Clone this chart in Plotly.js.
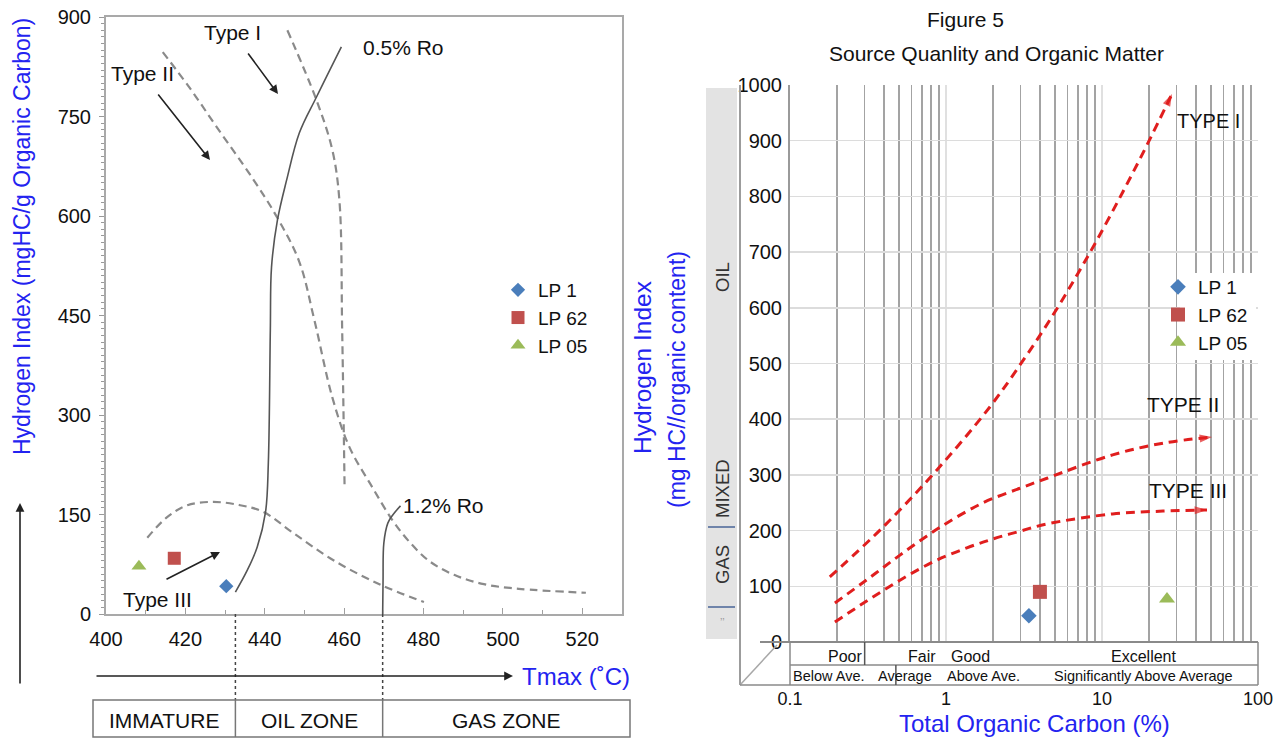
<!DOCTYPE html>
<html><head><meta charset="utf-8">
<script src="https://cdn.plot.ly/plotly-3.0.1.min.js"></script>
<style>html,body{margin:0;padding:0;background:#fff}#chart{width:1283px;height:740px}</style>
</head><body><div id="chart"></div>
<script>
// ---------- DATA ----------
const sampleNames = ['LP 1', 'LP 62', 'LP 05'];
// Left chart: Tmax vs HI
const sampleTmax = [430.3, 417.2, 408.3];
const sampleHiLeft = [42, 84, 72];
// Right chart: TOC vs HI
const sampleToc = [3.4, 4.0, 26.1];
const sampleHiRight = [47, 90, 77];

// Left chart kerogen type curves (Tmax, HI)
const leftType1X = [445.7, 453.0, 457.0, 458.8, 459.5, 460.1];
const leftType1Y = [880, 775, 700, 624, 428, 194];
const leftType2X = [414.3, 421.1, 427.9, 436.9, 443.2, 448.7, 452.5, 457.0, 461.3, 467.1, 472.1, 476.4, 481.4, 487.7, 495.2, 504.0, 520.9];
const leftType2Y = [847, 793, 734, 657, 597, 531, 443, 327, 252, 191, 142, 109, 80, 59, 45, 38, 32];
const leftType3X = [410.4, 415.4, 420.5, 427, 433.8, 439.6, 447.2, 457.3, 469.2, 480.1];
const leftType3Y = [115, 146, 164, 169, 164, 154, 122, 81, 44, 18];
// Vitrinite reflectance iso-lines
const ro05X = [432.6, 435.6, 438.1, 440.2, 440.9, 441.4, 441.7, 443.2, 445.5, 448.7, 453.0, 459.3];
const ro05Y = [33, 66, 101, 154, 228, 428, 523, 594, 654, 725, 779, 855];
const ro12X = [469.7, 469.8, 470, 471, 472.2, 474.2];
const ro12Y = [0, 51, 107, 137, 149, 163];
// Maturity zone boundaries (Tmax)
const zoneBounds = [432.6, 469.7];
const zoneNames = ['IMMATURE', 'OIL ZONE', 'GAS ZONE'];
const leftXTicks = [400, 420, 440, 460, 480, 500, 520];

// Right chart type trends (TOC %, HI)
const rightType1X = [0.18, 0.394, 0.875, 1.91, 3.2, 4.85, 6.92, 9.3, 13.6, 19.4, 28.1];
const rightType1Y = [117, 206, 309, 422, 510, 587, 659, 722, 808, 892, 984];
const rightType2X = [0.194, 0.312, 0.507, 0.916, 1.73, 2.98, 4.44, 11.7, 24.6, 50.7];
const rightType2Y = [70, 112, 156, 206, 250, 276, 294, 336, 357, 368];
const rightType3X = [0.194, 0.312, 0.507, 0.83, 1.36, 2.0, 2.98, 4.44, 11.7, 24.6, 47.1];
const rightType3Y = [36, 74, 111, 144, 169, 185, 199, 212, 230, 235, 237];
const rightXTicks = [0.1, 1, 10, 100];
const rightXTickText = ['0.1', '1', '10', '100'];
// TOC quality class boundaries
const qualityBounds = [1, 2];        // Poor/Fair | Good | Excellent
const averageBounds = [0.3, 1, 3];   // Below Ave. | Average | Above Ave. | Significantly Above Average

// ---------- HELPERS ----------
const W = 1283, H = 740;
const px = v => v / W;
const py = v => 1 - v / H;
const FONT = 'Liberation Sans, Arial, sans-serif';
const BLUE = '#2323f0';
const RED = '#e01e1e';
const sampleColors = ['#4a7ebb', '#c0504d', '#9bbb59'];
const sampleSymbols = ['diamond', 'square', 'triangle-up'];
const sampleSizes = [11, 13, 13];

const traces = [];
function leftCurve(x, y, solid) {
  traces.push({x, y, xaxis: 'x', yaxis: 'y', mode: 'lines', showlegend: false, hoverinfo: 'skip',
    line: solid ? {color: '#555', width: 1.6, shape: 'spline', smoothing: 1} : {color: '#8a8a8a', width: 2.2, dash: '8px,5px', shape: 'spline', smoothing: 1}});
}
leftCurve(leftType1X, leftType1Y, false);
leftCurve(leftType2X, leftType2Y, false);
leftCurve(leftType3X, leftType3Y, false);
leftCurve(ro05X, ro05Y, true);
leftCurve(ro12X, ro12Y, true);

function rightCurve(x, y) {
  const n = x.length;
  traces.push({x, y, xaxis: 'x2', yaxis: 'y2', mode: 'lines+markers', showlegend: false, hoverinfo: 'skip',
    line: {color: RED, width: 3, dash: '9px,6px', shape: 'spline', smoothing: 1},
    marker: {color: RED, symbol: x.map((_, i) => i === n - 1 ? 'arrow' : 'circle'),
      size: x.map((_, i) => i === n - 1 ? 13 : 0), angleref: 'previous', line: {width: 0}}});
}
rightCurve(rightType1X, rightType1Y);
rightCurve(rightType2X, rightType2Y);
rightCurve(rightType3X, rightType3Y);

sampleNames.forEach((nm, i) => {
  traces.push({x: [sampleTmax[i]], y: [sampleHiLeft[i]], xaxis: 'x', yaxis: 'y', mode: 'markers', name: nm,
    legend: 'legend', marker: {color: sampleColors[i], symbol: sampleSymbols[i], size: sampleSizes[i]}});
});
sampleNames.forEach((nm, i) => {
  traces.push({x: [sampleToc[i]], y: [sampleHiRight[i]], xaxis: 'x2', yaxis: 'y2', mode: 'markers', name: nm,
    legend: 'legend2', marker: {color: sampleColors[i], symbol: sampleSymbols[i], size: sampleSizes[i] + 1}});
});

// minor log grid values
const minorLog = [];
[0.1, 1, 10].forEach(d => { for (let k = 2; k <= 9; k++) minorLog.push(+(k * d).toPrecision(3)); });

// ---------- ANNOTATIONS ----------
const ann = [];
function txt(text, x, y, size, color, extra) {
  ann.push(Object.assign({text, x: px(x), y: py(y), xref: 'paper', yref: 'paper', showarrow: false,
    xanchor: 'center', yanchor: 'middle', font: {family: FONT, size, color: color || '#111'}}, extra || {}));
}
function arrow(hx, hy, tx, ty) {
  ann.push({text: '', x: px(hx), y: py(hy), xref: 'paper', yref: 'paper', showarrow: true,
    ax: tx - hx, ay: ty - hy, arrowhead: 2, arrowsize: 1.1, arrowwidth: 1.6, arrowcolor: '#222'});
}
// left chart
txt('Hydrogen Index (mgHC/g Organic Carbon)', 22, 237, 23, BLUE, {textangle: -90});
txt('Type I', 232, 32, 21);
txt('Type II', 142, 73, 21);
txt('0.5% Ro', 403, 47, 21);
txt('1.2% Ro', 443, 505, 21);
txt('Type III', 157, 599, 21);
arrow(278, 94, 247, 52);
arrow(210, 160, 157, 93);
arrow(220, 552, 165, 580);
arrow(20, 503, 20, 685);
arrow(513, 676, 95, 676);
txt('Tmax (˚C)', 576, 676, 24, BLUE);
// zone names placed between bounds in data coords
const zoneEdges = [400 - (106 - 93) / 3.98, ...zoneBounds, 530 + (630 - 622) / 3.98];
zoneNames.forEach((z, i) => {
  ann.push({text: z, x: (zoneEdges[i] + zoneEdges[i + 1]) / 2, y: py(720), xref: 'x', yref: 'paper', showarrow: false,
    xanchor: 'center', yanchor: 'middle', font: {family: FONT, size: 21, color: '#111'}});
});
// right chart
txt('Figure 5', 965, 20, 21);
txt('Source Quanlity and Organic Matter', 996, 53, 21);
txt('Hydrogen Index', 642, 368, 24.5, BLUE, {textangle: -90});
txt('(mg HC//organic content)', 677, 380, 23, BLUE, {textangle: -90});
txt('Total Organic Carbon (%)', 1034, 723, 24, BLUE);
txt('TYPE I', 1208, 121, 20);
txt('TYPE II', 1183, 404, 21);
txt('TYPE III', 1188, 490, 21);
txt('OIL', 722, 277, 18.5, '#333', {textangle: -90});
txt('MIXED', 722, 489, 18.5, '#333', {textangle: -90});
txt('GAS', 722, 565, 18.5, '#333', {textangle: -90});
txt('’’', 722, 622, 11, '#999');
// table texts
txt('Poor', 845, 656, 16);
txt('Fair', 922, 656, 16);
txt('Good', 970, 656, 16);
txt('Excellent', 1143, 656, 16);
txt('Below Ave.', 828, 676, 14.5);
txt('Average', 905, 676, 14.5);
txt('Above Ave.', 983, 676, 14.5);
txt('Significantly Above Average', 1143, 676, 14.5);

// ---------- SHAPES ----------
const shapes = [];
function pline(x0, y0, x1, y1, color, width, dash) {
  shapes.push({type: 'line', xref: 'paper', yref: 'paper', x0: px(x0), y0: py(y0), x1: px(x1), y1: py(y1),
    line: {color, width, dash: dash || 'solid'}});
}
// left zone boundaries and table
zoneBounds.forEach(b => {
  shapes.push({type: 'line', xref: 'x', yref: 'paper', x0: b, x1: b, y0: py(614), y1: py(700), line: {color: '#444', width: 1.5, dash: 'dot'}});
  shapes.push({type: 'line', xref: 'x', yref: 'paper', x0: b, x1: b, y0: py(700), y1: py(737), line: {color: '#777', width: 1.5}});
});
shapes.push({type: 'rect', xref: 'paper', yref: 'paper', x0: px(93), x1: px(630), y0: py(700), y1: py(737), line: {color: '#777', width: 1.5}});
// right side strip
shapes.push({type: 'rect', xref: 'paper', yref: 'paper', x0: px(706), x1: px(737), y0: py(88), y1: py(639), fillcolor: '#e3e3e3', line: {width: 0}, layer: 'below'});
pline(708, 527, 735, 527, '#6f84aa', 2);
pline(708, 607, 735, 607, '#6f84aa', 2);
pline(740, 85, 740, 685, '#9c9c9c', 2);
pline(740, 685, 777, 645, '#a8a8a8', 1.5);
pline(760, 642, 1258, 642, '#8a8a8a', 2);
pline(790, 642, 790, 685, '#8a8a8a', 1.5);
pline(790, 665, 1258, 665, '#8a8a8a', 1.5);
pline(740, 685, 1258, 685, '#8a8a8a', 1.5);
pline(1258, 642, 1258, 685, '#8a8a8a', 1.5);
qualityBounds.forEach(b => shapes.push({type: 'line', xref: 'x2', yref: 'paper', x0: Math.log10(b), x1: Math.log10(b), y0: py(642), y1: py(665), line: {color: '#555', width: 1.5}}));
averageBounds.forEach(b => shapes.push({type: 'line', xref: 'x2', yref: 'paper', x0: Math.log10(b), x1: Math.log10(b), y0: py(665), y1: py(685), line: {color: '#555', width: 1.5}}));
// white legend background on the right chart
shapes.push({type: 'rect', xref: 'paper', yref: 'paper', x0: px(1180), x1: px(1256), y0: py(273), y1: py(360), fillcolor: '#fff', line: {width: 0}, layer: 'above'});

const tickFont = {family: FONT, size: 20, color: '#111'};
const layout = {
  width: W, height: H, margin: {l: 0, r: 0, t: 0, b: 0}, paper_bgcolor: '#fff', plot_bgcolor: 'rgba(0,0,0,0)',
  showlegend: true, font: {family: FONT},
  xaxis: {domain: [px(106), px(622)], range: [400, 530], anchor: 'y', tickmode: 'array', tickvals: leftXTicks,
    showline: true, linecolor: '#a9a9a9', linewidth: 2, mirror: true, ticks: 'inside', ticklen: 6, tickcolor: '#a0a0a0',
    minor: {ticks: 'inside', ticklen: 4, dtick: 10, tick0: 400, tickcolor: '#a0a0a0'},
    showgrid: false, zeroline: false, tickfont: tickFont, ticklabelstandoff: 6},
  yaxis: {domain: [py(614), py(17)], range: [0, 900], anchor: 'x', dtick: 150, tick0: 0,
    showline: true, linecolor: '#a9a9a9', linewidth: 2, mirror: true, ticks: 'outside', ticklen: 5, tickcolor: '#999',
    minor: {ticks: 'outside', ticklen: 3, dtick: 10, tickcolor: '#999'},
    showgrid: false, zeroline: false, tickfont: tickFont, ticklabelstandoff: 4},
  xaxis2: {domain: [px(790), px(1258)], type: 'log', range: [-1, 2], anchor: 'y2', tickmode: 'array',
    tickvals: rightXTicks, ticktext: rightXTickText, ticks: '', showline: false, zeroline: false,
    showgrid: true, gridcolor: '#e0e0e0', gridwidth: 1.5,
    minor: {tickmode: 'array', tickvals: minorLog, showgrid: true, gridcolor: '#a3a3a3', gridwidth: 1.6, ticks: ''},
    tickfont: {family: FONT, size: 18, color: '#111'}, ticklabelstandoff: 44},
  yaxis2: {domain: [py(642), py(85)], range: [0, 1000], anchor: 'x2', dtick: 100, tick0: 0,
    showline: true, linecolor: '#9a9a9a', linewidth: 2, ticks: '', showgrid: true, gridcolor: '#dcdcdc', gridwidth: 1.5,
    zeroline: false, tickfont: tickFont, ticklabelstandoff: 2},
  legend: {x: px(498), y: py(271), xanchor: 'left', yanchor: 'top', bgcolor: 'rgba(0,0,0,0)',
    font: {family: FONT, size: 19, color: '#111'}, tracegroupgap: 0},
  legend2: {x: px(1158), y: py(268), xanchor: 'left', yanchor: 'top', bgcolor: 'rgba(0,0,0,0)',
    font: {family: FONT, size: 19, color: '#111'}, tracegroupgap: 0},
  annotations: ann, shapes
};
Plotly.newPlot('chart', traces, layout, {displayModeBar: false, staticPlot: true});
</script></body></html>
